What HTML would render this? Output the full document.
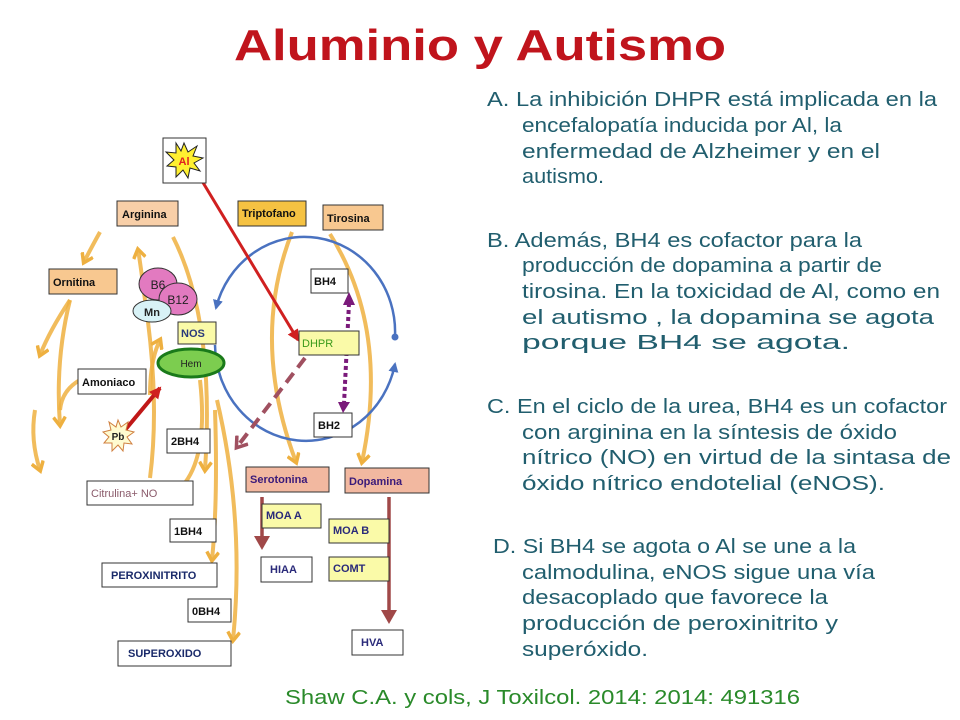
<!DOCTYPE html>
<html><head><meta charset="utf-8"><style>
html,body{margin:0;padding:0;background:#fff;}
svg{display:block;}
.t{font-family:"Liberation Sans",sans-serif;font-size:20px;fill:#215e6e;}
.b{font-family:"Liberation Sans",sans-serif;font-size:11px;font-weight:bold;fill:#111;}
.bx{stroke:#333;stroke-width:1;}
.or{fill:none;stroke:#eeb040;stroke-width:4;stroke-opacity:0.85;}
</style></head><body>
<svg width="960" height="720" viewBox="0 0 960 720" xmlns="http://www.w3.org/2000/svg">
<defs>
<marker id="ao" markerUnits="userSpaceOnUse" markerWidth="14" markerHeight="14" refX="10" refY="7" orient="auto"><path d="M2,1 L11,7 L2,13" fill="none" stroke="#eeb040" stroke-width="3.5"/></marker>
<marker id="ab" markerUnits="userSpaceOnUse" markerWidth="12" markerHeight="12" refX="8" refY="6" orient="auto"><path d="M0,1 L10,6 L0,11 Z" fill="#4a72c0"/></marker>
<marker id="ar" markerUnits="userSpaceOnUse" markerWidth="14" markerHeight="14" refX="10" refY="7" orient="auto"><path d="M0,1 L12,7 L0,13 Z" fill="#d02020"/></marker>
<marker id="am" markerUnits="userSpaceOnUse" markerWidth="16" markerHeight="16" refX="10" refY="8" orient="auto"><path d="M1,1 L11,8 L1,15" fill="none" stroke="#a05060" stroke-width="3.5"/></marker>
</defs>
<text x="480" y="60" text-anchor="middle" font-family="Liberation Sans,sans-serif" font-weight="bold" font-size="44" fill="#c0141c" textLength="492" lengthAdjust="spacingAndGlyphs">Aluminio y  Autismo</text>

<!-- orange arrows -->
<path class="or" d="M100,232 Q90,250 84,262" marker-end="url(#ao)"/>
<path class="or" d="M70,300 Q50,330 40,355" marker-end="url(#ao)"/>
<path class="or" d="M70,300 Q55,360 60,425" marker-end="url(#ao)"/>
<path class="or" d="M80,380 Q62,390 60,410"/>
<path class="or" d="M35,410 Q30,440 40,470" marker-end="url(#ao)"/>
<path class="or" d="M150,478 Q160,400 145,300 Q140,260 138,250" marker-end="url(#ao)"/>
<path class="or" d="M150,395 Q150,360 160,340" marker-end="url(#ao)"/>
<path class="or" d="M173,237 Q215,320 205,470" marker-end="url(#ao)"/>
<path class="or" d="M200,380 Q210,470 172,495"/>
<path class="or" d="M215,410 Q218,500 212,560" marker-end="url(#ao)"/>
<path class="or" d="M217,400 Q245,520 233,640" marker-end="url(#ao)"/>
<path class="or" d="M292,232 Q250,340 296,462" marker-end="url(#ao)"/>
<path class="or" d="M330,234 Q390,330 362,462" marker-end="url(#ao)"/>

<!-- blue circle -->
<path d="M395,336 A91,95 0 0 0 216,308" fill="none" stroke="#4a72c0" stroke-width="2.5" marker-end="url(#ab)"/>
<path d="M215,345 A91,97 0 0 0 395,364" fill="none" stroke="#4a72c0" stroke-width="2.5" marker-end="url(#ab)"/>
<circle cx="395" cy="337" r="3.5" fill="#4a72c0"/>

<!-- red arrows -->
<path d="M196,171 L298,340" stroke="#d02020" stroke-width="3" marker-end="url(#ar)"/>
<path d="M125,430 L160,388" stroke="#c01818" stroke-width="4" marker-end="url(#ar)"/>
<path d="M305,358 L237,447" stroke="#a05060" stroke-width="4" stroke-dasharray="12,7" marker-end="url(#am)"/>
<path d="M349,303 L344,404" stroke="#7a1a7a" stroke-width="4" stroke-dasharray="4,3"/>
<polygon points="343,305 355,305 349,292" fill="#7a1a7a"/>
<polygon points="338,402 350,402 343,413" fill="#7a1a7a"/>
<path d="M262,497 L262,540" stroke="#a04848" stroke-width="3.5"/>
<polygon points="254,536 270,536 262,550" fill="#a04848"/>
<path d="M389,497 L389,612" stroke="#a04848" stroke-width="3.5"/>
<polygon points="381,610 397,610 389,624" fill="#a04848"/>

<!-- Al -->
<rect x="163" y="138" width="43" height="45" fill="#fff" class="bx" stroke="#884444"/>
<polygon points="184,143 188,152 197,146 193,156 203,158 194,163 200,171 190,168 188,178 183,170 176,177 176,167 167,166 174,160 166,152 176,153 176,143 181,151" fill="#fff030" stroke="#222"/>
<text x="184" y="165" text-anchor="middle" font-family="Liberation Sans,sans-serif" font-weight="bold" font-size="11" fill="#e02020">Al</text>

<rect x="117" y="201" width="61" height="25" fill="#f8cfa8" class="bx"/><text class="b" x="122" y="218">Arginina</text>
<rect x="238" y="201" width="68" height="25" fill="#f5c242" class="bx"/><text class="b" x="242" y="217">Triptofano</text>
<rect x="323" y="205" width="60" height="25" fill="#f8c890" class="bx"/><text class="b" x="327" y="222">Tirosina</text>
<rect x="49" y="269" width="68" height="25" fill="#f8c890" class="bx"/><text class="b" x="53" y="286">Ornitina</text>

<ellipse cx="158" cy="284" rx="19" ry="16" fill="#e27ac0" stroke="#333"/><text x="158" y="289" text-anchor="middle" font-family="Liberation Sans,sans-serif" font-size="12" fill="#222">B6</text>
<ellipse cx="178" cy="299" rx="19" ry="16" fill="#e27ac0" stroke="#333"/><text x="178" y="304" text-anchor="middle" font-family="Liberation Sans,sans-serif" font-size="12" fill="#222">B12</text>
<ellipse cx="152" cy="311" rx="19" ry="11" fill="#d8f2f6" stroke="#333"/><text x="152" y="316" text-anchor="middle" font-family="Liberation Sans,sans-serif" font-weight="bold" font-size="11" fill="#222">Mn</text>

<rect x="178" y="322" width="38" height="22" fill="#fafaa8" class="bx"/><text class="b" x="181" y="337" style="fill:#2a3a7a">NOS</text>
<ellipse cx="191" cy="363" rx="33" ry="14" fill="#7ccd4f" stroke="#1a7a1a" stroke-width="3"/><text x="191" y="367" text-anchor="middle" font-family="Liberation Sans,sans-serif" font-size="10" fill="#222">Hem</text>
<rect x="78" y="369" width="68" height="25" fill="#fff" class="bx"/><text class="b" x="82" y="386">Amoniaco</text>

<polygon points="118,420 121,427 128,422 126,430 134,432 127,437 132,444 124,443 123,451 118,445 112,451 112,443 104,443 109,437 103,432 111,430 109,422 116,427" fill="#fffbd0" stroke="#d08040"/>
<text x="118" y="440" text-anchor="middle" font-family="Liberation Sans,sans-serif" font-weight="bold" font-size="10" fill="#222">Pb</text>

<rect x="167" y="429" width="43" height="24" fill="#fff" class="bx"/><text class="b" x="171" y="445">2BH4</text>
<rect x="87" y="481" width="106" height="24" fill="#fff" class="bx"/><text x="91" y="497" font-family="Liberation Sans,sans-serif" font-size="11" fill="#8a5a6a">Citrulina+ NO</text>
<rect x="170" y="519" width="46" height="23" fill="#fff" class="bx"/><text class="b" x="174" y="535">1BH4</text>
<rect x="102" y="563" width="115" height="24" fill="#fff" class="bx"/><text class="b" x="111" y="579" style="fill:#1a2a6a">PEROXINITRITO</text>
<rect x="188" y="599" width="43" height="23" fill="#fff" class="bx"/><text class="b" x="192" y="615">0BH4</text>
<rect x="118" y="641" width="113" height="25" fill="#fff" class="bx"/><text class="b" x="128" y="657" style="fill:#1a2a6a">SUPEROXIDO</text>

<rect x="311" y="269" width="37" height="24" fill="#fff" class="bx"/><text class="b" x="314" y="285">BH4</text>
<rect x="299" y="331" width="60" height="24" fill="#fafaa8" class="bx" stroke="#555"/><text x="302" y="347" font-family="Liberation Sans,sans-serif" font-size="11" fill="#3a9a1a">DHPR</text>
<rect x="314" y="413" width="38" height="24" fill="#fff" class="bx"/><text class="b" x="318" y="429">BH2</text>

<rect x="246" y="467" width="83" height="25" fill="#f2b8a0" class="bx"/><text class="b" x="250" y="483" style="fill:#3a1a7a">Serotonina</text>
<rect x="345" y="468" width="84" height="25" fill="#f2b8a0" class="bx"/><text class="b" x="349" y="485" style="fill:#3a1a7a">Dopamina</text>
<rect x="262" y="504" width="59" height="24" fill="#fafaa8" class="bx"/><text class="b" x="266" y="519" style="fill:#2a2a7a">MOA A</text>
<rect x="329" y="519" width="60" height="24" fill="#fafaa8" class="bx"/><text class="b" x="333" y="534" style="fill:#2a2a7a">MOA B</text>
<rect x="261" y="557" width="51" height="25" fill="#fff" class="bx"/><text class="b" x="270" y="573" style="fill:#2a2a7a">HIAA</text>
<rect x="329" y="557" width="60" height="24" fill="#fafaa8" class="bx"/><text class="b" x="333" y="572" style="fill:#2a2a7a">COMT</text>
<rect x="352" y="630" width="51" height="25" fill="#fff" class="bx"/><text class="b" x="361" y="646" style="fill:#2a2a7a">HVA</text>

<!-- right text -->
<g class="t">
<text x="487" y="106" textLength="450" lengthAdjust="spacingAndGlyphs">A. La inhibición DHPR está implicada en la</text>
<text x="522" y="132" textLength="320" lengthAdjust="spacingAndGlyphs">encefalopatía inducida por Al, la</text>
<text x="522" y="158" textLength="358" lengthAdjust="spacingAndGlyphs">enfermedad de Alzheimer y en el</text>
<text x="522" y="183" textLength="82" lengthAdjust="spacingAndGlyphs">autismo.</text>
<text x="487" y="247" textLength="375" lengthAdjust="spacingAndGlyphs">B. Además, BH4 es cofactor para la</text>
<text x="522" y="272" textLength="360" lengthAdjust="spacingAndGlyphs">producción de dopamina a partir de</text>
<text x="522" y="298" textLength="418" lengthAdjust="spacingAndGlyphs">tirosina. En la toxicidad de Al, como en</text>
<text x="522" y="324" textLength="412" lengthAdjust="spacingAndGlyphs">el autismo ,  la dopamina se agota</text>
<text x="522" y="349" textLength="328" lengthAdjust="spacingAndGlyphs">porque BH4 se agota.</text>
<text x="487" y="413" textLength="460" lengthAdjust="spacingAndGlyphs">C. En el ciclo de la urea, BH4 es un cofactor</text>
<text x="522" y="439" textLength="375" lengthAdjust="spacingAndGlyphs">con arginina en la síntesis de óxido</text>
<text x="522" y="464" textLength="429" lengthAdjust="spacingAndGlyphs">nítrico (NO) en virtud de la sintasa de</text>
<text x="522" y="490" textLength="363" lengthAdjust="spacingAndGlyphs">óxido nítrico endotelial (eNOS).</text>
<text x="493" y="553" textLength="363" lengthAdjust="spacingAndGlyphs">D. Si BH4 se agota o Al se une a la</text>
<text x="522" y="579" textLength="353" lengthAdjust="spacingAndGlyphs">calmodulina, eNOS sigue una vía</text>
<text x="522" y="604" textLength="306" lengthAdjust="spacingAndGlyphs">desacoplado que favorece la</text>
<text x="522" y="630" textLength="316" lengthAdjust="spacingAndGlyphs">producción de peroxinitrito y</text>
<text x="522" y="656" textLength="126" lengthAdjust="spacingAndGlyphs">superóxido.</text>
</g>
<text x="285" y="704" font-family="Liberation Sans,sans-serif" font-size="20" fill="#2a8a2a" textLength="515" lengthAdjust="spacingAndGlyphs">Shaw C.A. y cols, J Toxilcol. 2014: 2014: 491316</text>
</svg>
</body></html>
